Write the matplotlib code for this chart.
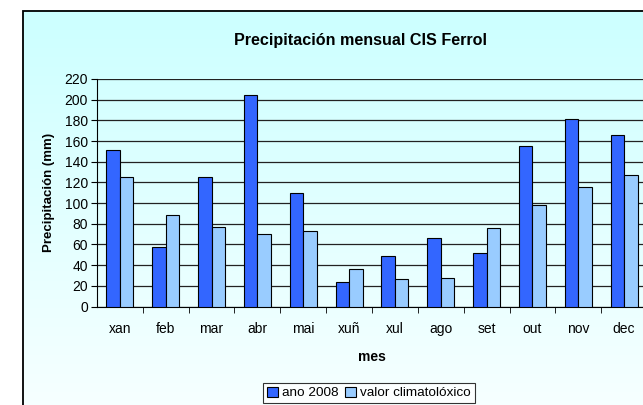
import numpy as np
import matplotlib
matplotlib.use('Agg')
import matplotlib.pyplot as plt
from matplotlib.patches import Rectangle

plt.rcParams['font.family'] = ['Liberation Sans', 'DejaVu Sans']

# data
meses = ['xan', 'feb', 'mar', 'abr', 'mai', 'xuñ', 'xul', 'ago', 'set', 'out', 'nov', 'dec']
ano_2008 = [151, 58, 125, 205, 110, 24, 49, 66, 52, 155, 181, 166]
climatoloxico = [125, 88, 77, 70, 73, 36, 27, 28, 76, 98, 116, 127]

fig = plt.figure(figsize=(6.43, 4.05), dpi=100)

# background gradient behind everything
bg = fig.add_axes([0, 0, 1, 1], zorder=0)
grad = np.linspace(0, 1, 256).reshape(-1, 1)
top = np.array([0.80, 1.0, 1.0])
bot = np.array([1.0, 1.0, 1.0])
img = top[None, None, :] * (1 - grad[:, :, None]) + bot[None, None, :] * grad[:, :, None]
bg.imshow(img, aspect='auto', extent=[22 / 643, 1.2, -0.2, 1 - 10 / 405],
          transform=bg.transAxes)
bg.set_xlim(0, 1)
bg.set_ylim(0, 1)
bg.add_patch(Rectangle((22.5 / 643, -0.2), 1.2, 1.2 - 10.5 / 405, fill=False,
                       ec='black', lw=1.3, transform=bg.transAxes))
bg.axis('off')

ax = fig.add_axes([97 / 643, 98.5 / 405, 550 / 643, 227.5 / 405], zorder=1)
ax.patch.set_alpha(0)

x = np.arange(len(meses))
w = 0.295
ax.bar(x - w / 2, ano_2008, w, color='#3366FF', edgecolor='black', lw=0.8,
       label='ano 2008', zorder=3)
ax.bar(x + w / 2, climatoloxico, w, color='#99CCFF', edgecolor='black', lw=0.8,
       label='valor climatolóxico', zorder=3)

ax.set_xlim(-0.5, len(meses) - 0.5)
ax.set_ylim(0, 220)
ax.set_yticks(np.arange(0, 221, 20))
ax.yaxis.grid(True, color='#222222', lw=0.9, zorder=1)
ax.set_axisbelow(True)

ax.set_xticks(x)
ax.set_xticklabels(meses, fontsize=10)
ax.tick_params(axis='x', which='major', length=0, pad=11)
ax.set_xticks(np.arange(0.5, len(meses) - 0.5, 1), minor=True)
ax.tick_params(axis='x', which='minor', length=4, direction='out', color='black')
ax.tick_params(axis='y', labelsize=10, length=4, direction='out', pad=2.5)

for s in ['top', 'right']:
    ax.spines[s].set_visible(False)
ax.spines['left'].set_color('black')
ax.spines['bottom'].set_color('black')

ax.set_ylabel('Precipitación (mm)', fontsize=9.5, fontweight='bold', labelpad=7)
ax.set_xlabel('mes', fontsize=10, fontweight='bold', labelpad=10)
fig.text(361 / 643, 1 - 40 / 405, 'Precipitación mensual CIS Ferrol', ha='center',
         va='center', fontsize=11.6, fontweight='bold')

leg = ax.legend(loc='center', bbox_to_anchor=(369 / 643, 1 - 393 / 405),
                bbox_transform=fig.transFigure, ncol=2, fontsize=9.7,
                frameon=True, fancybox=False, edgecolor='black',
                handlelength=0.8, handleheight=0.8, handletextpad=0.3,
                columnspacing=0.5, borderpad=0.3)
leg.get_frame().set_linewidth(0.8)
leg.get_frame().set_facecolor('white')

fig.savefig('out.png', dpi=100)
